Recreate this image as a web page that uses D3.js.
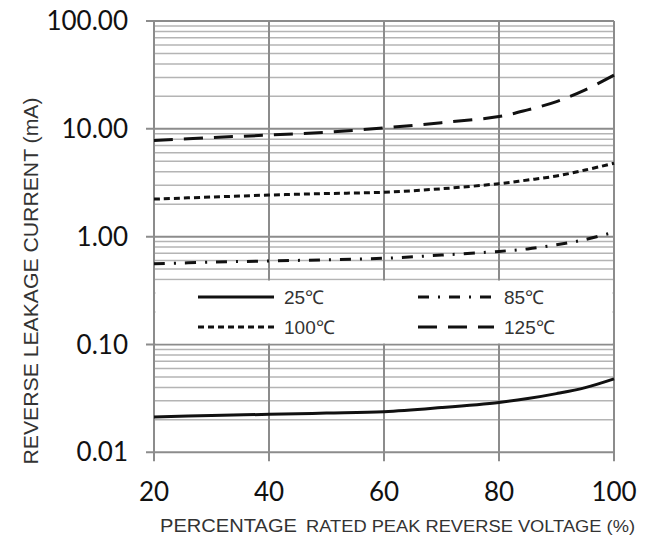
<!DOCTYPE html>
<html>
<head>
<meta charset="utf-8">
<script src="https://cdn.jsdelivr.net/npm/d3@7"></script>
<style>
  body { margin: 0; background: #fff; }
  text { font-family: "Liberation Sans", Arial, sans-serif; }
</style>
</head>
<body>
<svg id="chart" width="655" height="536"></svg>
<script>
// percentage of rated peak reverse voltage
var voltagePct = [20, 30, 40, 50, 60, 70, 80, 85, 90, 95, 100];

// leakage current (mA) for each temperature
var current25 = [0.0213, 0.0219, 0.0225, 0.0231, 0.0238, 0.026, 0.029, 0.0315, 0.035, 0.0398, 0.048];
var current85 = [0.56, 0.58, 0.595, 0.61, 0.63, 0.675, 0.73, 0.77, 0.84, 0.94, 1.1];
var current100 = [2.23, 2.33, 2.43, 2.51, 2.58, 2.78, 3.1, 3.35, 3.65, 4.15, 4.8];
var current125 = [7.8, 8.3, 8.75, 9.3, 10.2, 11.4, 13.0, 15.0, 17.9, 23.0, 31.5];

var seriesNames = ["25℃", "85℃", "100℃", "125℃"];
var xTicks = [20, 40, 60, 80, 100];
var yTicks = [0.01, 0.1, 1, 10, 100];
var yTickLabels = ["0.01", "0.10", "1.00", "10.00", "100.00"];

var svg = d3.select('#chart');

var margin = {top: 21, left: 154, bottom: 84, right: 41};
var width = 655;
var height = 536;

var x = d3.scaleLinear().domain([20, 100]).range([margin.left, width - margin.right]);
var y = d3.scaleLog().domain([0.01, 100]).range([height - margin.bottom + 0.3, margin.top]);

// minor horizontal gridlines (2..9 in every decade)
var minor = [];
[0.01, 0.1, 1, 10].forEach(function(d) {
    for (var k = 2; k <= 9; k++) minor.push(d * k);
});

svg.append("g").selectAll("line").data(minor).enter().append("line")
    .attr("x1", x(20)).attr("x2", x(100))
    .attr("y1", function(d) { return y(d); })
    .attr("y2", function(d) { return y(d); })
    .attr("stroke", "#b4b4b4").attr("stroke-width", 1.5);

// major gridlines
svg.append("g").selectAll("line").data(yTicks).enter().append("line")
    .attr("x1", x(20) - 8).attr("x2", x(100))
    .attr("y1", function(d) { return y(d); })
    .attr("y2", function(d) { return y(d); })
    .attr("stroke", "#8c8c8c").attr("stroke-width", 2);

svg.append("g").selectAll("line").data(xTicks).enter().append("line")
    .attr("x1", function(d) { return x(d); })
    .attr("x2", function(d) { return x(d); })
    .attr("y1", y(100)).attr("y2", y(0.01) + 9)
    .attr("stroke", "#8c8c8c").attr("stroke-width", 2);

// legend box hides the grid between 0.1 and 0.4 (frame stays)
svg.append("rect")
    .attr("x", x(20) + 1.5).attr("width", x(100) - x(20) - 3)
    .attr("y", y(0.4) + 1).attr("height", y(0.1) - y(0.4) - 2)
    .attr("fill", "#fff");

// tick labels
svg.append("g").selectAll("text").data(yTicks).enter().append("text")
    .attr("x", 128)
    .attr("y", function(d) { return y(d); })
    .attr("dy", "0.35em")
    .style("text-anchor", "end")
    .style("font-family", "Lato, sans-serif")
    .style("font-size", "26px")
    .attr("fill", "#111")
    .text(function(d, i) { return yTickLabels[i]; });

svg.append("g").selectAll("text").data(xTicks).enter().append("text")
    .attr("x", function(d) { return x(d); })
    .attr("y", 501)
    .style("text-anchor", "middle")
    .style("font-family", "Lato, sans-serif")
    .style("font-size", "26px")
    .attr("fill", "#111")
    .text(function(d) { return d; });

// curves
var styles = [
    {data: current25, dash: null},
    {data: current85, dash: "11,9,2,9"},
    {data: current100, dash: "6,4"},
    {data: current125, dash: "19,11"}
];

var line = d3.line()
    .x(function(d, i) { return x(voltagePct[i]); })
    .y(function(d) { return y(d); })
    .curve(d3.curveCatmullRom.alpha(0.5));

styles.forEach(function(s) {
    svg.append("path")
        .attr("d", line(s.data))
        .attr("fill", "none")
        .attr("stroke", "#111")
        .attr("stroke-width", 3)
        .attr("stroke-dasharray", s.dash);
});

// legend
var legendPos = [
    {x: 198, y: 297},
    {x: 418, y: 297},
    {x: 198, y: 327},
    {x: 418, y: 327}
];
var lg = svg.append("g");
legendPos.forEach(function(p, i) {
    lg.append("line")
        .attr("x1", p.x).attr("x2", p.x + 76)
        .attr("y1", p.y).attr("y2", p.y)
        .attr("stroke", "#111").attr("stroke-width", 3)
        .attr("stroke-dasharray", styles[i].dash);
    lg.append("text")
        .attr("x", p.x + 86).attr("y", p.y)
        .attr("dy", "0.36em")
        .style("font-size", "19px")
        .attr("fill", "#333")
        .text(seriesNames[i]);
});

// axis titles
svg.append("text")
    .attr("transform", "translate(" + 31 + " ," + 281 + "), rotate(-90)")
    .attr("dy", "0.36em")
    .style("text-anchor", "middle")
    .style("font-size", "20px")
    .attr("textLength", 367)
    .attr("lengthAdjust", "spacingAndGlyphs")
    .attr("fill", "#333")
    .text("REVERSE LEAKAGE CURRENT (mA)");

svg.append("text")
    .attr("x", 160).attr("y", 532)
    .style("font-size", "19px")
    .attr("textLength", 137)
    .attr("lengthAdjust", "spacingAndGlyphs")
    .attr("fill", "#333")
    .text("PERCENTAGE");

svg.append("text")
    .attr("x", 306).attr("y", 532)
    .style("font-size", "16px")
    .attr("textLength", 329)
    .attr("lengthAdjust", "spacingAndGlyphs")
    .attr("fill", "#333")
    .text("RATED PEAK REVERSE VOLTAGE (%)");
</script>
</body>
</html>
